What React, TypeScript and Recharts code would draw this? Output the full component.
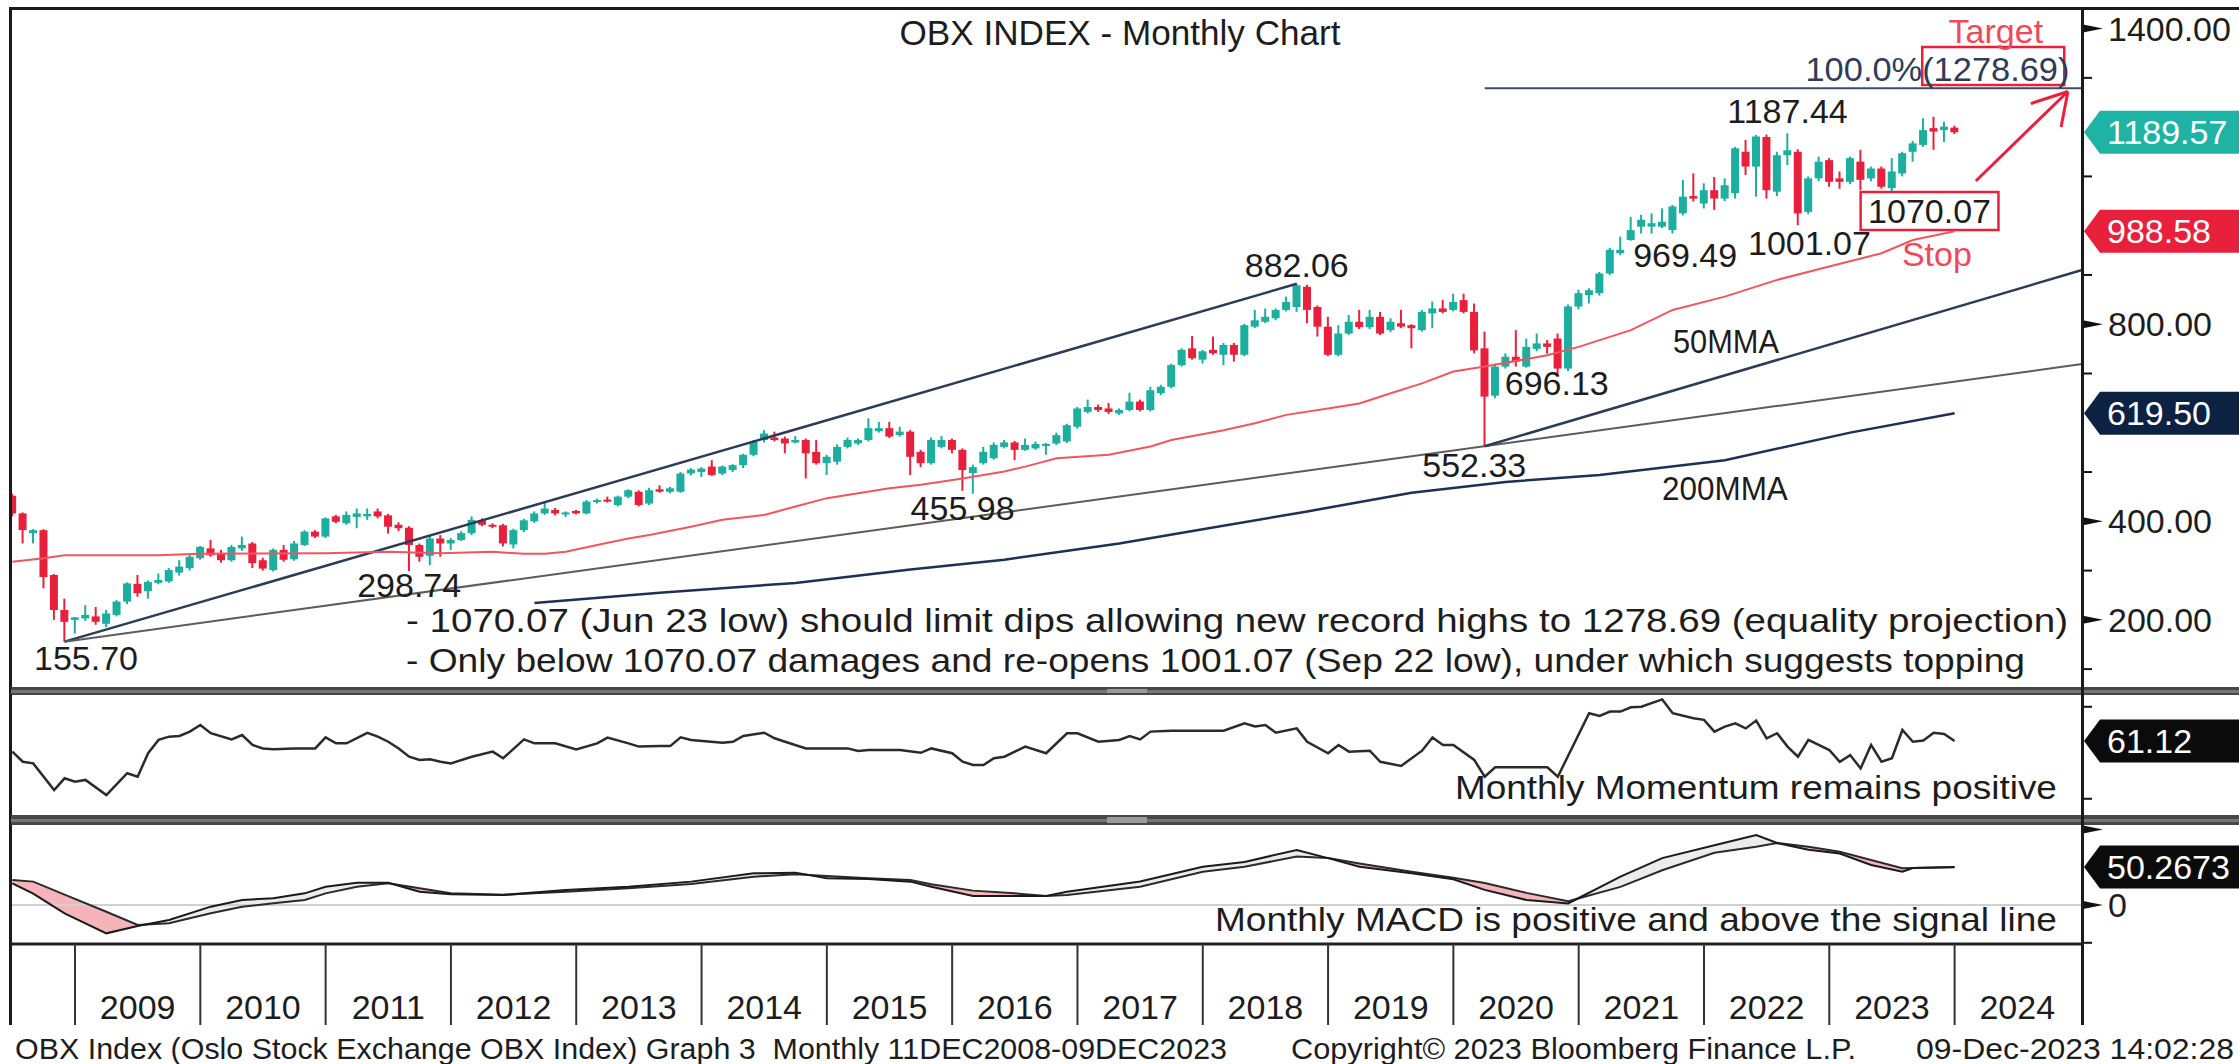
import React from 'react';
import {
  ComposedChart,
  Line,
  Bar,
  Area,
  XAxis,
  YAxis,
  ReferenceLine,
  ReferenceDot,
  ReferenceArea,
} from 'recharts';

// ---------------- data ----------------
// Monthly bars, plotted at month end. x = months since 1 Jan 2009 (end of Jun 2008 = -6).
const FIRST_T = -6;
// [open, high, low, close]
const ohlc: [number, number, number, number][] = [
  // 2008 Jun-Dec
  [452, 456, 410, 416], [416, 418, 355, 382], [376, 384, 355, 382], [382, 384, 264, 287], [291, 293, 200, 220], [220, 243, 155.7, 196], [200, 206, 172, 205],
  // 2009
  [203, 230, 198, 210], [207, 226, 190, 196], [192, 220, 185, 213], [210, 240, 207, 237], [237, 276, 232, 274], [273, 291, 247, 254], [258, 280, 243, 277], [275, 294, 272, 281], [278, 305, 275, 301], [296, 321, 290, 308], [305, 332, 300, 328], [325, 350, 322, 348],
  // 2010
  [345, 362, 328, 331], [336, 342, 316, 321], [321, 352, 318, 348], [345, 369, 340, 352], [355, 358, 305, 315], [321, 326, 300, 304], [301, 345, 298, 342], [342, 352, 318, 322], [323, 360, 320, 355], [352, 382, 350, 379], [379, 382, 366, 369], [369, 408, 366, 406],
  // 2011
  [410, 413, 396, 399], [396, 420, 393, 413], [409, 426, 386, 416], [410, 426, 403, 415], [420, 426, 406, 410], [412, 415, 375, 389], [393, 398, 380, 386], [387, 390, 298.74, 352], [352, 355, 318, 328], [330, 370, 311, 365], [365, 372, 328, 355], [355, 366, 342, 362],
  // 2012
  [362, 380, 360, 376], [376, 410, 372, 403], [402, 406, 390, 393], [393, 396, 386, 389], [392, 395, 349, 355], [353, 385, 345, 382], [382, 405, 378, 402], [400, 420, 397, 416], [416, 438, 413, 426], [423, 427, 412, 416], [415, 420, 409, 418], [421, 423, 414, 416],
  // 2013
  [416, 443, 414, 440], [439, 446, 436, 443], [444, 450, 438, 440], [433, 452, 430, 450], [450, 465, 447, 463], [460, 463, 430, 433], [436, 468, 433, 463], [465, 473, 458, 460], [460, 470, 457, 467], [460, 500, 458, 497], [497, 508, 493, 505], [500, 510, 490, 507],
  // 2014
  [511, 524, 492, 494], [497, 513, 494, 511], [504, 516, 500, 514], [514, 537, 508, 535], [535, 565, 532, 562], [565, 585, 560, 578], [570, 582, 562, 565], [568, 572, 538, 558], [560, 573, 558, 565], [565, 568, 487, 538], [541, 565, 515, 518], [518, 535, 494, 531],
  // 2015
  [521, 556, 515, 551], [551, 570, 548, 565], [558, 568, 555, 565], [565, 609, 562, 589], [583, 602, 580, 589], [589, 602, 569, 572], [575, 592, 572, 582], [582, 585, 494, 531], [541, 545, 510, 518], [518, 570, 515, 565], [551, 573, 548, 565], [565, 568, 538, 545],
  // 2016
  [545, 548, 462, 504], [498, 515, 455.98, 510], [518, 551, 515, 541], [528, 560, 525, 555], [551, 565, 548, 560], [560, 563, 524, 545], [545, 568, 543, 555], [548, 562, 545, 557], [553, 559, 535, 557], [558, 580, 555, 575], [562, 598, 559, 595], [592, 632, 588, 629],
  // 2017
  [622, 647, 619, 632], [632, 637, 622, 626], [629, 640, 618, 622], [619, 629, 616, 626], [626, 661, 623, 643], [643, 647, 623, 626], [626, 673, 623, 666], [660, 677, 656, 673], [673, 720, 670, 717], [717, 751, 714, 748], [751, 776, 728, 731], [728, 748, 720, 745],
  // 2018
  [748, 775, 738, 741], [738, 762, 717, 758], [758, 762, 724, 738], [738, 801, 735, 798], [795, 829, 792, 808], [805, 832, 802, 815], [812, 832, 808, 829], [829, 856, 826, 845], [835, 882.06, 825, 879], [876, 880, 802, 829], [835, 838, 775, 795], [795, 815, 735, 738],
  // 2019
  [738, 798, 735, 781], [781, 819, 778, 805], [805, 829, 790, 794], [794, 829, 790, 815], [815, 825, 778, 781], [788, 812, 784, 805], [802, 829, 792, 795], [798, 800, 751, 792], [788, 829, 785, 825], [822, 846, 792, 832], [832, 849, 822, 825], [829, 862, 826, 845],
  // 2020
  [849, 862, 822, 825], [825, 842, 741, 747], [751, 785, 552.33, 653], [655, 720, 650, 714], [714, 741, 710, 734], [734, 788, 714, 724], [714, 771, 712, 754], [750, 781, 745, 761], [761, 768, 740, 754], [771, 781, 696.13, 710], [710, 840, 705, 836], [836, 870, 830, 863],
  // 2021
  [859, 873, 842, 869], [863, 906, 858, 903], [903, 955, 900, 951], [944, 978, 940, 951], [971, 1018, 969.49, 991], [998, 1022, 984, 1012], [998, 1025, 984, 1005], [998, 1035, 995, 1008], [991, 1042, 984, 1039], [1025, 1093, 1021, 1059], [1060, 1106, 1049, 1055], [1045, 1086, 1035, 1072],
  // 2022
  [1072, 1099, 1032, 1055], [1055, 1096, 1050, 1082], [1066, 1160, 1055, 1157], [1150, 1174, 1103, 1120], [1120, 1184, 1059, 1181], [1180, 1185, 1055, 1072], [1069, 1150, 1060, 1143], [1143, 1187.44, 1123, 1153], [1150, 1155, 1001.07, 1025], [1028, 1100, 1023, 1096], [1096, 1140, 1090, 1130], [1133, 1137, 1079, 1089],
  // 2023
  [1096, 1110, 1075, 1089], [1089, 1140, 1084, 1137], [1130, 1154, 1072, 1093], [1096, 1120, 1090, 1116], [1116, 1120, 1075, 1079], [1076, 1137, 1070.07, 1110], [1106, 1150, 1100, 1147], [1150, 1172, 1130, 1167], [1164, 1218, 1160, 1194], [1198, 1221, 1154, 1191], [1194, 1211, 1170, 1201], [1199, 1203, 1186, 1189.57],
];

// 50-month moving average readings [t, value]
const ma50Points: [number, number][] = [
  [-6, 318], [-3, 325], [-1, 331], [8, 331], [12, 334], [24, 335], [30, 338], [35, 335], [40, 338], [43, 334], [45, 334], [47, 338],
  [50, 352], [53, 365], [55, 372], [59, 389], [62, 403], [66, 413], [69, 430], [72, 447], [75, 457], [78, 467], [81, 474], [85, 487],
  [89, 501], [91, 511], [94, 528], [99, 535], [103, 552], [105, 565], [110, 585], [113, 599], [116, 616], [120, 629], [123, 639],
  [126, 660], [129, 680], [132, 704], [135, 714], [141, 737], [144, 754], [149, 788], [153, 829], [158, 856], [163, 890], [168, 917],
  [173, 944], [176, 971], [180, 988.58],
];

// 200-month moving average readings [t, value]
const ma200Points: [number, number][] = [
  [44, 234], [56, 255], [69, 275], [80, 302], [89, 322], [100, 355], [108, 384], [118, 420], [128, 458], [137, 480], [146, 494],
  [158, 524], [170, 580], [180, 619.5],
];

// Monthly momentum [t, value]
const momentumPoints: [number, number][] = [
  [-6, 56.5], [-5, 52.1], [-4, 51.4], [-2, 39.8], [-1, 44.9], [0, 43.4], [1, 44.2], [3, 37.6], [5, 47.1], [6, 45.6], [7, 55.8], [8, 61.6],
  [9, 63.0], [10, 63.3], [11, 65.2], [12, 68.1], [13, 64.5], [15, 61.8], [16, 63.7], [17, 59.4], [18, 57.9], [19, 57.5], [21, 57.9],
  [23, 57.9], [24, 62.7], [25, 60.1], [26, 60.1], [28, 64.7], [29, 63.0], [30, 60.8], [31, 57.9], [32, 54.3], [33, 52.9], [34, 53.2],
  [35, 52.1], [36, 51.4], [38, 54.3], [40, 56.5], [41, 53.6], [43, 61.8], [44, 60.1], [46, 60.1], [48, 57.5], [50, 60.1], [51, 62.6],
  [53, 60.1], [54, 58.7], [56, 58.9], [57, 58.9], [58, 62.7], [59, 61.6], [62, 60.4], [63, 60.8], [64, 63.3], [66, 64.7], [67, 62.3],
  [68, 60.8], [70, 57.9], [71, 57.9], [73, 57.9], [74, 57.9], [75, 56.8], [76, 57.2], [79, 57.2], [81, 56.0], [82, 57.9], [84, 55.8],
  [85, 52.1], [86, 50.7], [87, 50.7], [88, 53.6], [89, 54.3], [91, 58.7], [93, 55.8], [95, 64.5], [96, 64.5], [98, 60.8], [100, 61.6],
  [101, 63.3], [102, 61.8], [103, 65.2], [105, 65.6], [110, 65.6], [112, 68.8], [113, 67.4], [114, 68.1], [115, 64.7], [117, 66.6],
  [118, 60.8], [120, 55.8], [121, 59.4], [122, 56.5], [124, 56.9], [125, 52.1], [127, 50.3], [129, 56.9], [130, 62.7], [131, 59.4],
  [132, 59.4], [134, 52.9], [135, 45.6], [136, 49.7], [138, 49.7], [141, 49.7], [142, 45.6], [145, 73.2], [146, 72.0], [147, 73.9],
  [148, 73.9], [149, 75.8], [150, 76.0], [152, 79.2], [153, 73.2], [155, 71.0], [156, 70.3], [157, 65.2], [158, 67.4], [159, 68.8],
  [160, 66.6], [161, 70.0], [162, 62.3], [163, 64.5], [164, 58.7], [165, 54.3], [166, 61.6], [168, 57.2], [169, 52.1], [170, 55.0],
  [171, 49.2], [172, 59.4], [173, 52.1], [174, 53.6], [175, 65.9], [176, 60.8], [177, 61.3], [178, 64.7], [179, 64.2], [180, 61.12],
];

// Monthly MACD [t, macd, signal]
const macdPoints: [number, number, number][] = [
  [-6, 28.7, 33], [-4, 15, 30.9], [-1, -11, 13.7], [3, -37.5, -9], [6, -27.8, -26.5], [9, -19.8, -24], [13, -2.2, -11], [16, 6.6, -2.2],
  [19, 8.8, 2.2], [22, 15.4, 6.6], [24, 24.2, 15.4], [27, 29.5, 24.2], [30, 29.5, 28.7], [33, 17.6, 22], [36, 14.1, 15.4], [41, 13.2, 13.6],
  [47, 19.8, 17.6], [53, 24.2, 22], [59, 30.9, 27.8], [65, 41.9, 37.5], [69, 42.8, 40.6], [72, 35.3, 38.4], [76, 34.4, 35.3], [80, 30.9, 33.1],
  [82, 24.2, 27.5], [86, 11.9, 19], [90, 11.9, 15.4], [93, 12, 12], [95, 17.6, 13.2], [102, 31, 24], [108, 50.7, 44], [112, 57, 50.7],
  [117, 72.8, 64], [120, 62, 62], [123, 50.7, 55], [128, 42, 44], [132, 34, 36], [135, 20, 29], [139, 6.6, 16], [143, 2, 5], [148, 37.5, 24],
  [152, 62, 46], [157, 79, 69], [161, 92.6, 77], [163, 82, 82], [166, 73, 77], [169, 68, 70.5], [172, 53, 59.5], [175, 44, 48.5],
  [176, 49, 49], [180, 50.27, 50],
];

const mainAxisTicks = [100, 200, 300, 400, 500, 600, 700, 800, 900, 1000, 1100, 1200, 1300, 1400];
const mainLabelledTicks = [1400, 800, 400, 200];
const momentumTicks = [36, 76];
const macdTicks = [-50, 0, 100];
const years = [2009, 2010, 2011, 2012, 2013, 2014, 2015, 2016, 2017, 2018, 2019, 2020, 2021, 2022, 2023, 2024];

const lastClose = 1189.57;
const lastMa50 = 988.58;
const lastMa200 = 619.5;
const lastMomentum = 61.12;
const lastMacd = 50.2673;

// ---------------- styles / layout ----------------
const FONT = "'Liberation Sans', Arial, Helvetica, sans-serif";
const INK = '#1d1d1d';
const TEAL = '#1cae9f';
const RED = '#e8203c';
const SOFT_RED = '#ef4a5b';
const NAVY = '#2c3b58';
const W = 2239;
const AXIS_W = 157;
const LEFT = 11;
const X_DOMAIN: [number, number] = [-6.13, 192.2];
const MAIN_DOMAIN: [number, number] = [63.7, 1435.7];
const MOM_DOMAIN: [number, number] = [28.95, 81.12];
const MACD_DOMAIN: [number, number] = [-51.6, 105.8];

// ---------------- tables ----------------
const ma50Map = new Map(ma50Points.map(([t, v]) => [t, v] as [number, number]));
const ma200Map = new Map(ma200Points.map(([t, v]) => [t, v] as [number, number]));
const mainTable = ohlc.map(([o, h, l, c], i) => {
  const t = i + FIRST_T;
  return {
    t,
    open: o,
    high: h,
    low: l,
    close: c,
    ma50: ma50Map.has(t) ? ma50Map.get(t)! : null,
    ma200: ma200Map.has(t) ? ma200Map.get(t)! : null,
  };
});
const momTable = momentumPoints.map(([t, v]) => ({ t, v }));
const macdTable = macdPoints.map(([t, m, s]) => ({
  t,
  macd: m,
  signal: s,
  pink: m < s ? [m, s] : [m, m],
  gray: m > s ? [s, m] : [m, m],
}));
const yearAxisTicks: number[] = [];
years.forEach((y, i) => {
  yearAxisTicks.push(i * 12);
  yearAxisTicks.push(i * 12 + 6);
});

// ---------------- shapes ----------------
const CandleShape = (props: any) => {
  const { x, y, width, height, payload } = props;
  if (x == null || y == null || !payload) return null;
  const top = Math.min(y, y + height);
  const h = Math.abs(height);
  const { open, close, high, low } = payload;
  const span = high - low || 1;
  const py = (v: number) => top + ((high - v) / span) * h;
  const cx = x + width / 2;
  const up = close >= open;
  const color = up ? TEAL : RED;
  const bTop = py(Math.max(open, close));
  const bBot = py(Math.min(open, close));
  return (
    <g>
      <line x1={cx} x2={cx} y1={top} y2={top + h} stroke={color} strokeWidth={2} />
      <rect x={cx - width / 2} y={bTop} width={width} height={Math.max(bBot - bTop, 2)} fill={color} />
    </g>
  );
};

const textShape =
  (text: string, opts: { color?: string; size?: number; anchor?: string; len?: number } = {}) =>
  (p: any) => (
    <text
      x={p.cx}
      y={p.cy}
      textAnchor={(opts.anchor as any) ?? 'middle'}
      dominantBaseline="central"
      fontSize={opts.size ?? 34}
      fill={opts.color ?? INK}
      fontFamily={FONT}
      {...(opts.len ? { textLength: opts.len, lengthAdjust: 'spacingAndGlyphs' } : {})}
    >
      {text}
    </text>
  );

const tagShape = (text: string, fill: string) => (p: any) => {
  const { cx, cy } = p;
  const h = 21.5;
  const x0 = cx + 2;
  const xs = cx + 18;
  return (
    <g>
      <polygon points={`${x0},${cy} ${xs},${cy - h} ${W},${cy - h} ${W},${cy + h} ${xs},${cy + h}`} fill={fill} />
      <text x={cx + 25} y={cy} dominantBaseline="central" fontSize={34} fill="#fff" fontFamily={FONT}>
        {text}
      </text>
    </g>
  );
};

const Wedge = ({ x, y }: { x: number; y: number }) => (
  <polygon points={`${x + 1},${y - 4} ${x + 1},${y + 4} ${x + 21},${y}`} fill="#111" />
);

const MainTick = (props: any) => {
  const { x, y, payload } = props;
  const v = payload.value;
  const labelled = mainLabelledTicks.includes(v);
  if (v % 200 !== 0) return <line x1={x} x2={x + 10} y1={y} y2={y} stroke="#111" strokeWidth={2} />;
  if (!labelled) return <g />;
  return (
    <g>
      <Wedge x={x} y={y} />
      <text x={x + 26} y={y} dominantBaseline="central" fontSize={34} fill={INK} fontFamily={FONT}>
        {v.toFixed(2)}
      </text>
    </g>
  );
};

const MinorTick = (props: any) => {
  const { x, y } = props;
  return <line x1={x} x2={x + 10} y1={y} y2={y} stroke="#111" strokeWidth={2} />;
};

const MacdTick = (props: any) => {
  const { x, y, payload } = props;
  const v = payload.value;
  if (v === -50) return <line x1={x} x2={x + 10} y1={y} y2={y} stroke="#111" strokeWidth={2} />;
  return (
    <g>
      <Wedge x={x} y={y} />
      {v === 0 && (
        <text x={x + 26} y={y} dominantBaseline="central" fontSize={34} fill={INK} fontFamily={FONT}>
          0
        </text>
      )}
    </g>
  );
};

const YearTick = (props: any) => {
  const { x, y, payload } = props;
  const t = payload.value;
  if (t % 12 === 0) return <line x1={x} x2={x} y1={y} y2={y + 81} stroke="#333" strokeWidth={2} />;
  const year = years[Math.floor(t / 12)];
  return (
    <text x={x} y={y + 63} textAnchor="middle" dominantBaseline="central" fontSize={34} fill={INK} fontFamily={FONT}>
      {year}
    </text>
  );
};

// ---------------- annotations (data coordinates) ----------------
const priceLabels: { text: string; t: number; v: number; color?: string; len?: number; anchor?: string }[] = [
  { text: '155.70', t: 1.05, v: 122.5 },
  { text: '298.74', t: 32.0, v: 270.7 },
  { text: '455.98', t: 85.0, v: 427 },
  { text: '882.06', t: 117.0, v: 920 },
  { text: '552.33', t: 134.0, v: 514 },
  { text: '696.13', t: 141.9, v: 681 },
  { text: '969.49', t: 154.2, v: 940.5 },
  { text: '1001.07', t: 166.1, v: 965 },
  { text: '1187.44', t: 164.0, v: 1232.7 },
  { text: '50MMA', t: 158.1, v: 766, len: 106 },
  { text: '200MMA', t: 158.0, v: 467.6, len: 126 },
  { text: 'Target', t: 183.95, v: 1395, color: SOFT_RED },
  { text: 'Stop', t: 178.3, v: 942, color: SOFT_RED },
  { text: '1070.07', t: 177.6, v: 1029.6 },
  { text: '100.0%(1278.69)', t: 191.0, v: 1318, color: '#2e3c58', anchor: 'end', len: 264 },
  {
    text: '- 1070.07 (Jun 23 low) should limit dips allowing new record highs to 1278.69 (equality projection)',
    t: 31.7,
    v: 199.7,
    anchor: 'start',
    len: 1662,
  },
  {
    text: '- Only below 1070.07 damages and re-opens 1001.07 (Sep 22 low), under which suggests topping',
    t: 31.7,
    v: 119.5,
    anchor: 'start',
    len: 1619,
  },
];

// ---------------- component ----------------
const Bar3 = ({ top, h }: { top: number; h: number }) => (
  <div style={{ position: 'absolute', left: LEFT, top, width: W - LEFT, height: h, background: '#474747' }}>
    <div style={{ position: 'absolute', left: 0, right: 0, top: h / 2 - 1.5, height: 3, background: '#767676' }} />
    <div style={{ position: 'absolute', left: 1096, top: 2, width: 40, height: h - 4, background: '#9a9a9a' }} />
  </div>
);

export default function App() {
  return (
    <div
      style={{
        position: 'absolute',
        left: 0,
        top: 0,
        width: W,
        height: 1064,
        background: '#fff',
        overflow: 'hidden',
        fontFamily: FONT,
      }}
    >
      {/* main price panel */}
      <div style={{ position: 'absolute', left: 0, top: 0 }}>
        <ComposedChart width={W} height={698} data={mainTable} margin={{ top: 11, right: 0, bottom: 11, left: LEFT }}>
          <XAxis type="number" dataKey="t" domain={X_DOMAIN} hide allowDataOverflow />
          <YAxis
            orientation="right"
            domain={MAIN_DOMAIN}
            ticks={mainAxisTicks}
            interval={0}
            width={AXIS_W}
            axisLine={false}
            tickLine={false}
            tickSize={0}
            tickMargin={0}
            tick={(p: any) => <MainTick {...p} />}
            allowDataOverflow
          />
          <ReferenceLine segment={[{ x: -1, y: 155.7 }, { x: 117, y: 882.06 }]} stroke={NAVY} strokeWidth={2.5} ifOverflow="visible" />
          <ReferenceLine segment={[{ x: -1, y: 155.7 }, { x: 192.2, y: 719.15 }]} stroke="#5c5c5c" strokeWidth={2} ifOverflow="visible" />
          <ReferenceLine segment={[{ x: 135, y: 552.33 }, { x: 192.2, y: 910 }]} stroke={NAVY} strokeWidth={2.5} ifOverflow="visible" />
          <ReferenceLine segment={[{ x: 135, y: 1278.69 }, { x: 192.2, y: 1278.69 }]} stroke="#3d4d68" strokeWidth={2} ifOverflow="visible" />
          <Line dataKey="ma50" stroke="#f0565f" strokeWidth={2} dot={false} connectNulls isAnimationActive={false} />
          <Line dataKey="ma200" stroke="#1f2f55" strokeWidth={2.5} dot={false} connectNulls isAnimationActive={false} />
          <Bar
            dataKey={(d: any) => [d.low, d.high]}
            barSize={8}
            shape={(p: any) => <CandleShape {...p} />}
            isAnimationActive={false}
          />
          {/* target / stop boxes and arrow */}
          <ReferenceArea x1={176.9} x2={190.5} y1={1285.5} y2={1362.7} fill="none" stroke={RED} strokeWidth={2.5} ifOverflow="visible" />
          <ReferenceArea x1={171.0} x2={184.2} y1={991} y2={1068.2} fill="none" stroke={RED} strokeWidth={2.5} ifOverflow="visible" />
          <ReferenceLine segment={[{ x: 182.03, y: 1090.7 }, { x: 190.85, y: 1272.3 }]} stroke={RED} strokeWidth={3} ifOverflow="visible" />
          <ReferenceLine segment={[{ x: 190.85, y: 1272.3 }, { x: 187.3, y: 1247.8 }]} stroke={RED} strokeWidth={3} ifOverflow="visible" />
          <ReferenceLine segment={[{ x: 190.85, y: 1272.3 }, { x: 190.2, y: 1200.3 }]} stroke={RED} strokeWidth={3} ifOverflow="visible" />
          {priceLabels.map((l, i) => (
            <ReferenceDot
              key={i}
              x={l.t}
              y={l.v}
              r={0}
              ifOverflow="visible"
              shape={textShape(l.text, { color: l.color, anchor: l.anchor, len: l.len })}
            />
          ))}
          <ReferenceDot x={X_DOMAIN[1]} y={lastClose} r={0} ifOverflow="visible" shape={tagShape(lastClose.toFixed(2), '#1fb3a5')} />
          <ReferenceDot x={X_DOMAIN[1]} y={lastMa50} r={0} ifOverflow="visible" shape={tagShape(lastMa50.toFixed(2), RED)} />
          <ReferenceDot x={X_DOMAIN[1]} y={lastMa200} r={0} ifOverflow="visible" shape={tagShape(lastMa200.toFixed(2), '#0d2143')} />
        </ComposedChart>
      </div>

      {/* momentum panel */}
      <div style={{ position: 'absolute', left: 0, top: 695 }}>
        <ComposedChart width={W} height={120} data={momTable} margin={{ top: 0, right: 0, bottom: 0, left: LEFT }}>
          <XAxis type="number" dataKey="t" domain={X_DOMAIN} hide allowDataOverflow />
          <YAxis
            orientation="right"
            domain={MOM_DOMAIN}
            ticks={momentumTicks}
            interval={0}
            width={AXIS_W}
            axisLine={false}
            tickLine={false}
            tickSize={0}
            tickMargin={0}
            tick={(p: any) => <MinorTick {...p} />}
            allowDataOverflow
          />
          <Line dataKey="v" stroke="#2b2b2b" strokeWidth={2.5} dot={false} isAnimationActive={false} />
          <ReferenceDot
            x={189.8}
            y={41.1}
            r={0}
            ifOverflow="visible"
            shape={textShape('Monthly Momentum remains positive', { anchor: 'end', len: 602, size: 33 })}
          />
          <ReferenceDot x={X_DOMAIN[1]} y={lastMomentum} r={0} ifOverflow="visible" shape={tagShape(lastMomentum.toFixed(2), '#0b0b0b')} />
        </ComposedChart>
      </div>

      {/* MACD panel + year axis */}
      <div style={{ position: 'absolute', left: 0, top: 825 }}>
        <ComposedChart width={W} height={200} data={macdTable} margin={{ top: 0, right: 0, bottom: 0, left: LEFT }}>
          <XAxis
            type="number"
            dataKey="t"
            domain={X_DOMAIN}
            allowDataOverflow
            height={81}
            ticks={yearAxisTicks}
            interval={0}
            tickLine={false}
            tickSize={0}
            tickMargin={0}
            tick={(p: any) => <YearTick {...p} />}
            axisLine={{ stroke: '#222', strokeWidth: 3 }}
          />
          <YAxis
            orientation="right"
            domain={MACD_DOMAIN}
            ticks={macdTicks}
            interval={0}
            width={AXIS_W}
            axisLine={false}
            tickLine={false}
            tickSize={0}
            tickMargin={0}
            tick={(p: any) => <MacdTick {...p} />}
            allowDataOverflow
          />
          <ReferenceLine y={0} stroke="#d0d0d0" strokeWidth={2} />
          <Area dataKey="pink" fill="#f5b4b8" fillOpacity={1} stroke="none" isAnimationActive={false} />
          <Area dataKey="gray" fill="#ececec" fillOpacity={1} stroke="none" isAnimationActive={false} />
          <Line dataKey="signal" stroke="#2a2a2a" strokeWidth={2} dot={false} isAnimationActive={false} />
          <Line dataKey="macd" stroke="#1a1a1a" strokeWidth={2} dot={false} isAnimationActive={false} />
          <ReferenceDot
            x={189.8}
            y={-19.8}
            r={0}
            ifOverflow="visible"
            shape={textShape('Monthly MACD is positive and above the signal line', { anchor: 'end', len: 842, size: 33 })}
          />
          <ReferenceDot x={X_DOMAIN[1]} y={lastMacd} r={0} ifOverflow="visible" shape={tagShape(lastMacd.toFixed(4), '#0b0b0b')} />
        </ComposedChart>
      </div>

      {/* frame, separators, right axis line */}
      <div style={{ position: 'absolute', left: 9, top: 7, width: W - 9, height: 3, background: '#1a1a1a' }} />
      <div style={{ position: 'absolute', left: 9, top: 7, width: 3, height: 1018, background: '#1a1a1a' }} />
      <Bar3 top={687} h={8} />
      <Bar3 top={815} h={10} />
      <div style={{ position: 'absolute', left: 2081, top: 7, width: 3, height: 1018, background: '#1a1a1a' }} />

      {/* title and footer */}
      <svg width={W} height={1064} style={{ position: 'absolute', left: 0, top: 0, pointerEvents: 'none' }}>
        <text x={1120} y={32} textAnchor="middle" dominantBaseline="central" fontSize={35} fill={INK} fontFamily={FONT} textLength={441} lengthAdjust="spacingAndGlyphs">
          OBX INDEX - Monthly Chart
        </text>
        <text x={15} y={1048} dominantBaseline="central" fontSize={30} fill={INK} fontFamily={FONT} textLength={1212} lengthAdjust="spacingAndGlyphs" style={{ whiteSpace: 'pre' }}>
          {'OBX Index (Oslo Stock Exchange OBX Index) Graph 3  Monthly 11DEC2008-09DEC2023'}
        </text>
        <text x={1291} y={1048} dominantBaseline="central" fontSize={30} fill={INK} fontFamily={FONT} textLength={565} lengthAdjust="spacingAndGlyphs">
          Copyright© 2023 Bloomberg Finance L.P.
        </text>
        <text x={1916} y={1048} dominantBaseline="central" fontSize={30} fill={INK} fontFamily={FONT} textLength={318} lengthAdjust="spacingAndGlyphs">
          09-Dec-2023 14:02:28
        </text>
      </svg>
    </div>
  );
}
